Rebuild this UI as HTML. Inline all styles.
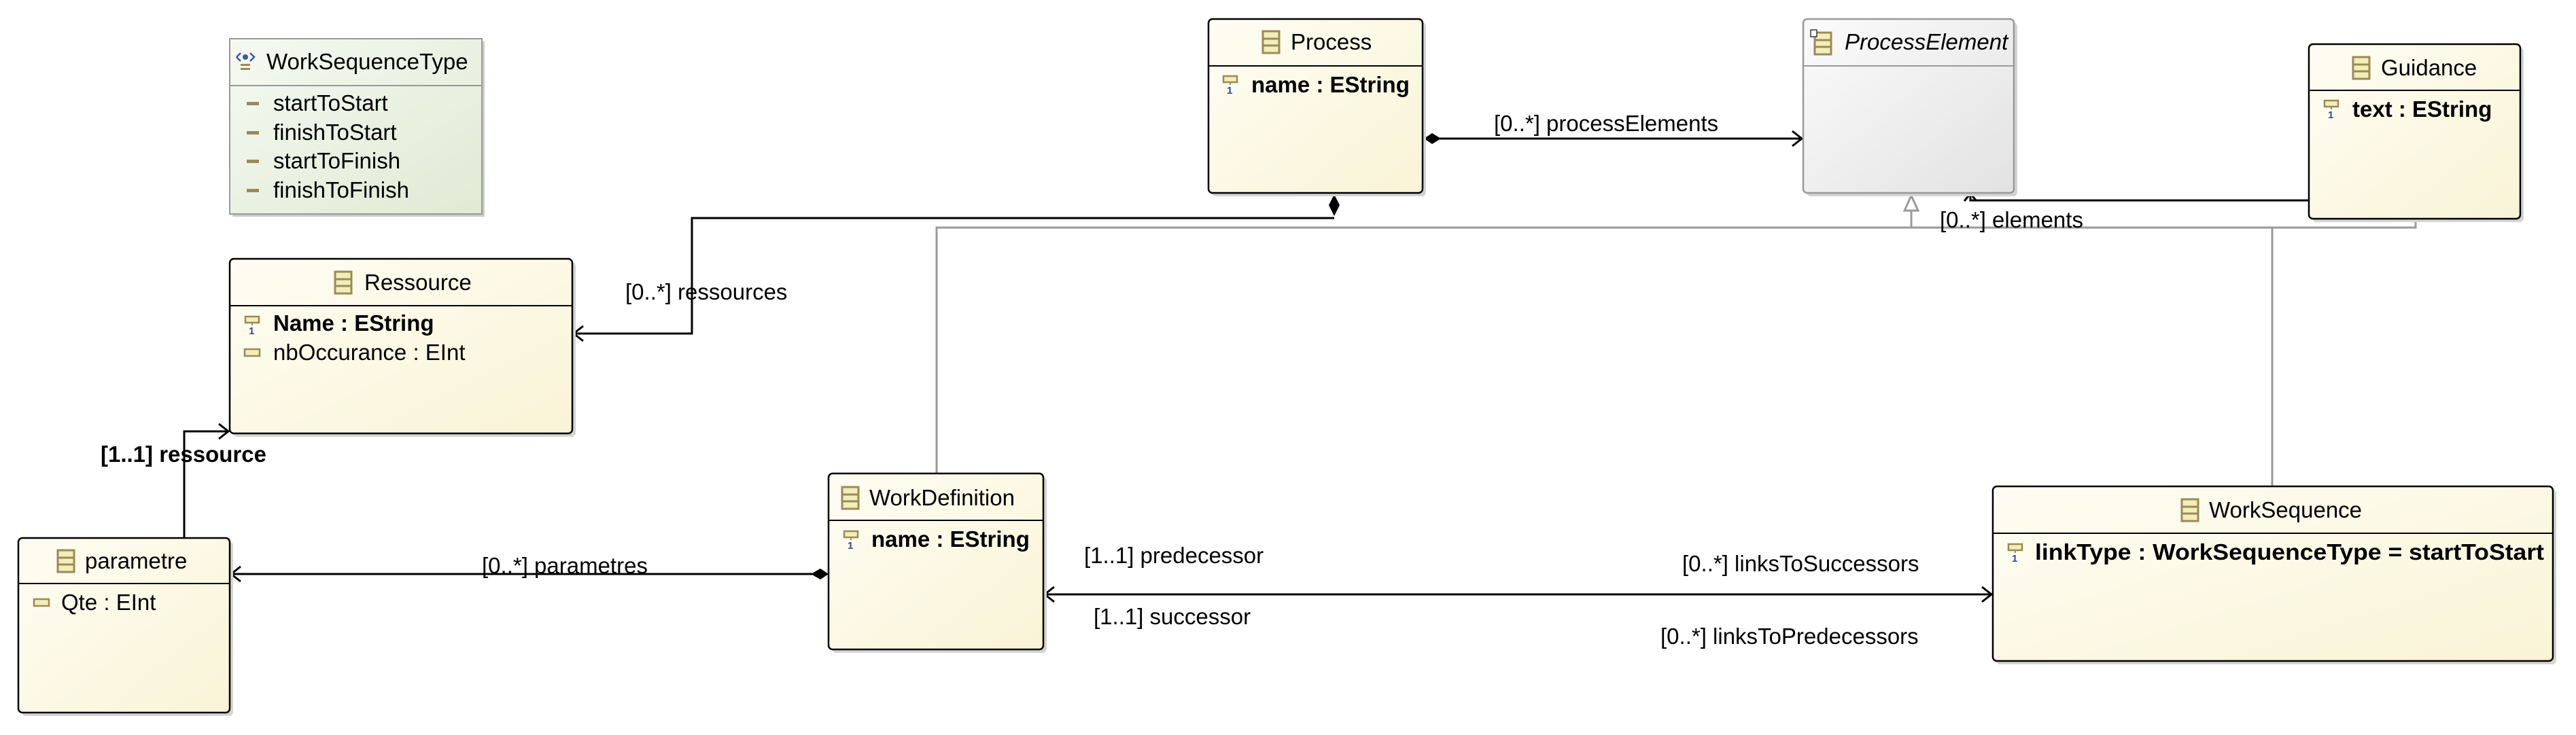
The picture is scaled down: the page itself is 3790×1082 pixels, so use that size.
<!DOCTYPE html>
<html><head><meta charset="utf-8"><style>
html,body{margin:0;padding:0;background:#fff;}
svg{display:block;}
text{font-family:"Liberation Sans",sans-serif;font-size:33px;fill:#000;}
.b{font-weight:bold;}
</style></head><body>
<svg width="3790" height="1082" viewBox="0 0 3790 1082" xmlns="http://www.w3.org/2000/svg">
<defs>
<linearGradient id="y" x1="0" y1="0" x2="1" y2="1"><stop offset="0" stop-color="#fefdf3"/><stop offset="1" stop-color="#f9f4d6"/></linearGradient>
<linearGradient id="g" x1="0" y1="0" x2="1" y2="1"><stop offset="0" stop-color="#fbfbfb"/><stop offset="1" stop-color="#e2e2e2"/></linearGradient>
<linearGradient id="gr" x1="0" y1="0" x2="1" y2="1"><stop offset="0" stop-color="#f6f9f2"/><stop offset="1" stop-color="#dfead4"/></linearGradient>
<g id="ci"><rect x="0" y="0" width="24" height="32" fill="#f3eeb8" stroke="#9a8a5a" stroke-width="3"/><line x1="0" y1="11" x2="24" y2="11" stroke="#9a8a5a" stroke-width="3"/><line x1="0" y1="21" x2="24" y2="21" stroke="#9a8a5a" stroke-width="3"/></g>
<g id="ai"><rect x="0" y="0" width="20" height="9" fill="#f3eeb8" stroke="#9a8a5a" stroke-width="2.5"/><text x="5" y="26" style="font-size:15px;fill:#2a4c9a;font-weight:bold">1</text><line x1="10" y1="9" x2="10" y2="13" stroke="#9a8a5a" stroke-width="2"/></g>
<g id="ap"><rect x="0" y="0" width="22" height="10" fill="#f3eeb8" stroke="#9a8a5a" stroke-width="2.5"/></g>
</defs>

<g fill="none" stroke="#999" stroke-width="3">
<polyline points="1378,697 1378,335 3554,335 3554,322"/>
<line x1="3343" y1="335" x2="3343" y2="716"/>
<line x1="2812" y1="310" x2="2812" y2="335"/>
<polygon points="2812,288 2802,310 2822,310" fill="#fff"/>
</g>
<g fill="none" stroke="#000" stroke-width="3">
<polyline points="1963,321 1018,321 1018,491 844,491"/>
<polyline points="858,480 844,491 858,502"/>
<polyline points="271,792 271,635 336,635"/>
<polyline points="322,624 336,635 322,646"/>
<line x1="340" y1="845" x2="1195" y2="845"/>
<polyline points="354,834 340,845 354,856"/>
<line x1="2118" y1="204" x2="2651" y2="204"/>
<polyline points="2637,193 2651,204 2637,215"/>
<polyline points="3397,295 2899,295 2899,286"/>
<polyline points="2890,296 2899,285 2908,296"/>
<line x1="1537" y1="875" x2="2930" y2="875"/>
<polyline points="1551,864 1537,875 1551,886"/>
<polyline points="2916,864 2930,875 2916,886"/>
</g>
<polygon points="2095,204 2107,196 2120,204 2107,212" fill="#000"/>
<polygon points="1963,286 1971,302 1963,318 1955,302" fill="#000"/>
<polygon points="1219,845 1207,837 1193,845 1207,853" fill="#000"/>

<text x="920" y="441">[0..*] ressources</text>
<text x="148" y="680" class="b">[1..1] ressource</text>
<text x="709" y="844">[0..*] parametres</text>
<text x="2198" y="193">[0..*] processElements</text>
<text x="2854" y="335">[0..*] elements</text>
<text x="1595" y="829">[1..1] predecessor</text>
<text x="1609" y="919">[1..1] successor</text>
<text x="2475" y="841">[0..*] linksToSuccessors</text>
<text x="2443" y="948">[0..*] linksToPredecessors</text>

<rect x="342" y="61" width="371" height="258" fill="#ccc"/>
<rect x="338" y="57" width="371" height="258" fill="url(#gr)" stroke="#999" stroke-width="2"/>
<line x1="338" y1="126" x2="709" y2="126" stroke="#999" stroke-width="2"/>
<g transform="translate(348,76)"><path d="M0,8 L6,2 M0,8 L6,14 M20,2 L26,8 L20,14" stroke="#3a5a9a" stroke-width="2.5" fill="none"/><circle cx="13" cy="8" r="4" fill="#3a5a9a"/><rect x="6" y="18" width="14" height="3" fill="#9a8a5a"/><rect x="6" y="24" width="14" height="3" fill="#9a8a5a"/></g>
<text x="392" y="102">WorkSequenceType</text>
<g fill="#9a8a5a"><rect x="363" y="150" width="18" height="5"/><rect x="363" y="193" width="18" height="5"/><rect x="363" y="235" width="18" height="5"/><rect x="363" y="278" width="18" height="5"/></g>
<text x="402" y="163">startToStart</text>
<text x="402" y="206">finishToStart</text>
<text x="402" y="248">startToFinish</text>
<text x="402" y="291">finishToFinish</text>

<rect x="343" y="386" width="504" height="257" rx="6" fill="#d4d4d4"/>
<rect x="338" y="381" width="504" height="257" rx="6" fill="url(#y)" stroke="#000" stroke-width="2.5"/>
<line x1="338" y1="450" x2="842" y2="450" stroke="#000" stroke-width="2"/>
<use href="#ci" x="493" y="400"/>
<text x="536" y="427">Ressource</text>
<use href="#ai" x="361" y="466"/>
<text x="402" y="487" class="b">Name : EString</text>
<use href="#ap" x="360" y="514"/>
<text x="402" y="530">nbOccurance : EInt</text>

<rect x="32" y="797" width="311" height="257" rx="6" fill="#d4d4d4"/>
<rect x="27" y="792" width="311" height="257" rx="6" fill="url(#y)" stroke="#000" stroke-width="2.5"/>
<line x1="27" y1="859" x2="338" y2="859" stroke="#000" stroke-width="2"/>
<use href="#ci" x="85" y="810"/>
<text x="125" y="837">parametre</text>
<use href="#ap" x="50" y="882"/>
<text x="90" y="898">Qte : EInt</text>

<rect x="1783" y="33" width="315" height="256" rx="6" fill="#d4d4d4"/>
<rect x="1778" y="28" width="315" height="256" rx="6" fill="url(#y)" stroke="#000" stroke-width="2.5"/>
<line x1="1778" y1="97" x2="2093" y2="97" stroke="#000" stroke-width="2"/>
<use href="#ci" x="1858" y="46"/>
<text x="1899" y="73">Process</text>
<use href="#ai" x="1800" y="112"/>
<text x="1841" y="136" class="b">name : EString</text>

<rect x="2658" y="33" width="310" height="256" rx="6" fill="#d4d4d4"/>
<rect x="2653" y="28" width="310" height="256" rx="6" fill="url(#g)" stroke="#999" stroke-width="2.5"/>
<line x1="2653" y1="97" x2="2963" y2="97" stroke="#999" stroke-width="2"/>
<use href="#ci" x="2670" y="48"/>
<rect x="2664" y="44" width="9" height="10" fill="#fff" stroke="#333" stroke-width="1.5"/>
<text x="2714" y="73" font-style="italic">ProcessElement</text>

<rect x="3402" y="70" width="311" height="257" rx="6" fill="#d4d4d4"/>
<rect x="3397" y="65" width="311" height="257" rx="6" fill="url(#y)" stroke="#000" stroke-width="2.5"/>
<line x1="3397" y1="133" x2="3708" y2="133" stroke="#000" stroke-width="2"/>
<use href="#ci" x="3462" y="84"/>
<text x="3503" y="111">Guidance</text>
<use href="#ai" x="3420" y="148"/>
<text x="3461" y="172" class="b">text : EString</text>

<rect x="1224" y="702" width="316" height="259" rx="6" fill="#d4d4d4"/>
<rect x="1219" y="697" width="316" height="259" rx="6" fill="url(#y)" stroke="#000" stroke-width="2.5"/>
<line x1="1219" y1="766" x2="1535" y2="766" stroke="#000" stroke-width="2"/>
<use href="#ci" x="1239" y="717"/>
<text x="1279" y="744">WorkDefinition</text>
<use href="#ai" x="1242" y="782"/>
<text x="1282" y="805" class="b">name : EString</text>

<rect x="2937" y="721" width="824" height="257" rx="6" fill="#d4d4d4"/>
<rect x="2932" y="716" width="824" height="257" rx="6" fill="url(#y)" stroke="#000" stroke-width="2.5"/>
<line x1="2932" y1="785" x2="3756" y2="785" stroke="#000" stroke-width="2"/>
<use href="#ci" x="3210" y="735"/>
<text x="3250" y="762">WorkSequence</text>
<use href="#ai" x="2955" y="801"/>
<text x="2994" y="824" class="b" textLength="749" lengthAdjust="spacingAndGlyphs">linkType : WorkSequenceType = startToStart</text>
</svg>
</body></html>
